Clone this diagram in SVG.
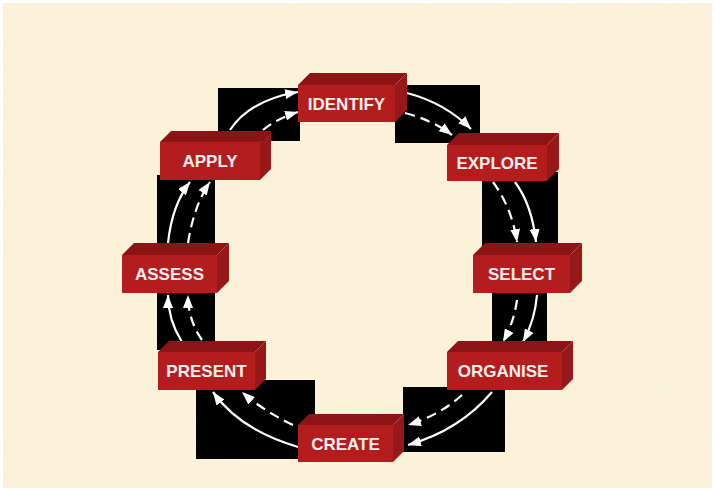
<svg xmlns="http://www.w3.org/2000/svg" width="715" height="491" viewBox="0 0 715 491">
<defs>
<style>
.blk{fill:#000}
.front{fill:#b31d1d}
.top{fill:#8c1414}
.side{fill:#971818}
.lbl{font-family:"Liberation Sans",Arial,sans-serif;font-weight:bold;font-size:17px;fill:#fbeeee;text-anchor:middle}
.arr{fill:none;stroke:#ffffff;stroke-width:2.2;marker-end:url(#ah)}
.dash{stroke-dasharray:10 6}
</style>
<marker id="ah" viewBox="0 0 13 10" refX="13" refY="5" markerWidth="13" markerHeight="10" markerUnits="userSpaceOnUse" orient="auto">
<path d="M0,0 L13,5 L0,10 z" fill="#ffffff"/>
</marker>
<filter id="tex" x="0" y="0" width="100%" height="100%">
<feTurbulence type="fractalNoise" baseFrequency="0.04" numOctaves="3" seed="4"/>
<feColorMatrix type="matrix" values="0 0 0 0 0.96  0 0 0 0 0.90  0 0 0 0 0.72  0 0 0 1.2 -0.45"/>
</filter>
</defs>
<rect width="715" height="491" fill="#ffffff"/>
<rect x="3" y="3" width="709" height="485" fill="#fbf2d9"/>
<rect x="3" y="3" width="709" height="485" filter="url(#tex)" opacity="0.5"/>
<g id="backing">
<rect class="blk" x="218" y="88" width="82" height="53"/>
<rect class="blk" x="395" y="85" width="85" height="58"/>
<rect class="blk" x="482" y="172" width="76" height="86"/>
<rect class="blk" x="492" y="293" width="55" height="52"/>
<rect class="blk" x="403" y="387" width="102" height="65"/>
<rect class="blk" x="196" y="380" width="119" height="79"/>
<rect class="blk" x="157" y="175" width="58" height="175"/>
</g>
<g id="connectors">
<path class="arr" d="M230,130 Q250,100 298,92"/>
<path class="arr dash" d="M263,130 Q278,118 298,112"/>
<path class="arr" d="M407,93 Q445,103 471,129"/>
<path class="arr dash" d="M405,113 Q432,120 452,135"/>
<path class="arr" d="M515,182 Q532,205 536,242"/>
<path class="arr dash" d="M493,182 Q512,208 517,242"/>
<path class="arr" d="M537,295 Q535,320 523,342"/>
<path class="arr dash" d="M517,300 Q514,322 503,342"/>
<path class="arr" d="M492,392 Q460,430 408,445"/>
<path class="arr dash" d="M462,395 Q440,415 408,425"/>
<path class="arr" d="M298,447 Q240,430 213,392"/>
<path class="arr dash" d="M293,425 Q262,410 242,392"/>
<path class="arr" d="M182,342 Q168,320 168,295"/>
<path class="arr dash" d="M202,340 Q188,320 188,295"/>
<path class="arr" d="M168,243 Q172,205 190,182"/>
<path class="arr dash" d="M188,243 Q194,205 210,182"/>
</g>
<g id="identify">
<polygon class="top" points="298,85 310,73 407,73 395,85"/>
<polygon class="side" points="395,85 407,73 407,110 395,122"/>
<rect class="front" x="298" y="85" width="97" height="37"/>
<text class="lbl" x="346.5" y="109.5">IDENTIFY</text>
</g>
<g id="explore">
<polygon class="top" points="447,145 459,133 559,133 547,145"/>
<polygon class="side" points="547,145 559,133 559,169 547,181"/>
<rect class="front" x="447" y="145" width="100" height="36"/>
<text class="lbl" x="497" y="169">EXPLORE</text>
</g>
<g id="select">
<polygon class="top" points="473,255 485,243 582,243 570,255"/>
<polygon class="side" points="570,255 582,243 582,281 570,293"/>
<rect class="front" x="473" y="255" width="97" height="38"/>
<text class="lbl" x="521.5" y="280">SELECT</text>
</g>
<g id="organise">
<polygon class="top" points="447,352 458,341 573,341 562,352"/>
<polygon class="side" points="562,352 573,341 573,379 562,390"/>
<rect class="front" x="447" y="352" width="115" height="38"/>
<text class="lbl" x="503" y="377">ORGANISE</text>
</g>
<g id="create">
<polygon class="top" points="298,425 309,414 404,414 393,425"/>
<polygon class="side" points="393,425 404,414 404,451 393,462"/>
<rect class="front" x="298" y="425" width="95" height="37"/>
<text class="lbl" x="345.5" y="449.5">CREATE</text>
</g>
<g id="present">
<polygon class="top" points="158,352 169,341 266,341 255,352"/>
<polygon class="side" points="255,352 266,341 266,379 255,390"/>
<rect class="front" x="158" y="352" width="97" height="38"/>
<text class="lbl" x="206.5" y="377">PRESENT</text>
</g>
<g id="assess">
<polygon class="top" points="122,255 134,243 229,243 217,255"/>
<polygon class="side" points="217,255 229,243 229,281 217,293"/>
<rect class="front" x="122" y="255" width="95" height="38"/>
<text class="lbl" x="169.5" y="280">ASSESS</text>
</g>
<g id="apply">
<polygon class="top" points="160,142 171,131 271,131 260,142"/>
<polygon class="side" points="260,142 271,131 271,169 260,180"/>
<rect class="front" x="160" y="142" width="100" height="38"/>
<text class="lbl" x="210" y="167">APPLY</text>
</g>
</svg>
